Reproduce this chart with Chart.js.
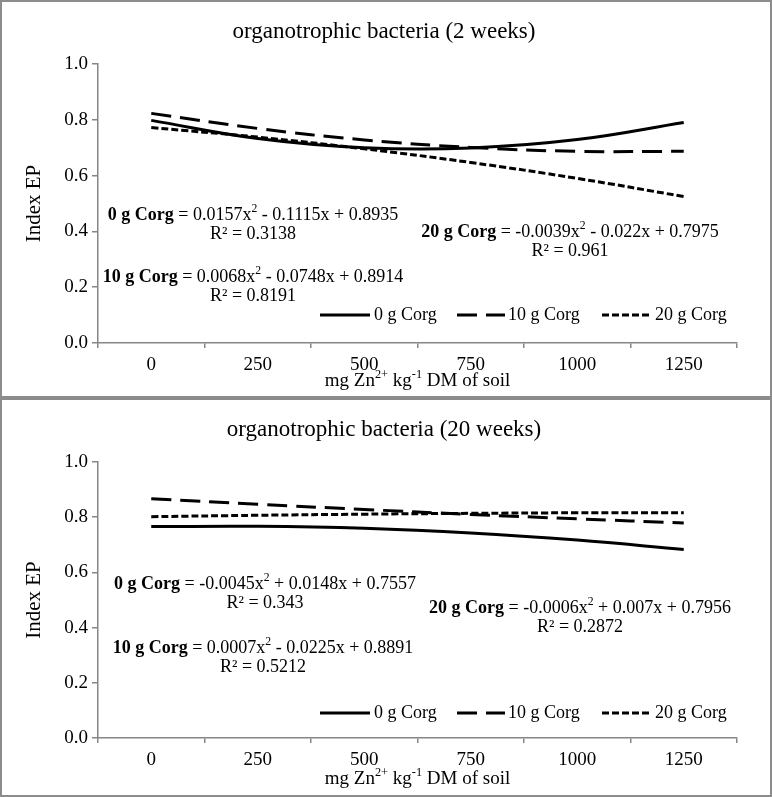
<!DOCTYPE html>
<html>
<head>
<meta charset="utf-8">
<script src="https://cdn.jsdelivr.net/npm/chart.js@4/dist/chart.umd.min.js"></script>
<style>
  body { margin: 0; background: #fff; }
  canvas { position: absolute; left: 0; }
  #c1 { top: 0; }
  #c2 { top: 398px; }
</style>
</head>
<body>
<canvas id="c1" width="772" height="398"></canvas>
<canvas id="c2" width="772" height="399"></canvas>
<script>
// データ
var doses = ['0', '250', '500', '750', '1000', '1250'];
var yTicks = [0, 0.2, 0.4, 0.6, 0.8, 1.0];
var seriesNames = ['0 g Corg', '10 g Corg', '20 g Corg'];

// 2 weeks
var w2_0g = [0.798, 0.733, 0.700, 0.699, 0.729, 0.790];
var w2_10g = [0.823, 0.769, 0.728, 0.701, 0.687, 0.687];
var w2_20g = [0.772, 0.738, 0.696, 0.647, 0.590, 0.525];

// 20 weeks
var w20_0g = [0.766, 0.767, 0.760, 0.743, 0.717, 0.683];
var w20_10g = [0.867, 0.847, 0.828, 0.810, 0.794, 0.779];
var w20_20g = [0.802, 0.807, 0.811, 0.814, 0.816, 0.816];

var SERIF = '"Liberation Serif", "Times New Roman", serif';
var axisGrey = '#868686';

var lineStyles = [
  { dash: [] },
  { dash: [20, 9] },
  { dash: [7, 3] }
];

//リッチテキスト（太字・上付き）を中央揃えで描く
function richText(ctx, parts, cx, cy, size) {
  var total = 0;
  parts.forEach(function(p) {
    var s = p.sup ? size * 0.65 : size;
    ctx.font = (p.b ? 'bold ' : '') + s + 'px ' + SERIF;
    p.w = ctx.measureText(p.t).width;
    total += p.w;
  });
  var x = cx - total / 2;
  ctx.textBaseline = 'middle';
  ctx.textAlign = 'left';
  parts.forEach(function(p) {
    var s = p.sup ? size * 0.65 : size;
    ctx.font = (p.b ? 'bold ' : '') + s + 'px ' + SERIF;
    ctx.fillText(p.t, x, p.sup ? cy - size * 0.32 : cy);
    x += p.w;
  });
}

function eq(label, a, b, c) {
  return [{ t: label, b: true }, { t: ' = ' + a + 'x' }, { t: '2', sup: true }, { t: ' ' + b + 'x ' + c }];
}

//パネル装飾プラグイン
var decor = {
  id: 'decor',
  afterDraw: function(chart, args, opts) {
    var ctx = chart.ctx;
    var area = chart.chartArea;
    ctx.save();
    ctx.fillStyle = '#000';
    // タイトル
    ctx.font = '23px ' + SERIF;
    ctx.textAlign = 'center';
    ctx.textBaseline = 'middle';
    ctx.fillText(opts.title, 384, 32);
    // 軸タイトル
    richText(ctx, [{ t: 'mg Zn' }, { t: '2+', sup: true }, { t: ' kg' }, { t: '-1', sup: true }, { t: ' DM of soil' }],
      (area.left + area.right) / 2, opts.xTitleY, 19);
    // 回帰式
    opts.eqs.forEach(function(e) {
      richText(ctx, e.parts, e.x, e.y, 18);
      richText(ctx, [{ t: 'R² = ' + e.r2 }], e.x, e.y + 19, 18);
    });
    // 凡例
    var legendY = opts.legendY;
    var items = [[320, 370, 374], [457, 505, 508], [602, 652, 655]];
    chart.data.datasets.forEach(function(ds, i) {
      var it = items[i];
      ctx.beginPath();
      ctx.setLineDash(ds.borderDash || []);
      ctx.lineWidth = ds.borderWidth;
      ctx.strokeStyle = ds.borderColor;
      ctx.moveTo(it[0], legendY);
      ctx.lineTo(it[1], legendY);
      ctx.stroke();
      ctx.setLineDash([]);
      ctx.font = '18px ' + SERIF;
      ctx.textAlign = 'left';
      ctx.textBaseline = 'middle';
      ctx.fillText(ds.label, it[2], legendY);
    });
    // 枠
    ctx.strokeStyle = '#8c8c8c';
    ctx.lineWidth = 2;
    ctx.strokeRect(1, 1, chart.width - 2, chart.height - 2);
    ctx.restore();
  }
};

function makeChart(id, data, bottom, opts) {
  var canvas = document.getElementById(id);
  var datasets = data.map(function(d, i) {
    return {
      label: seriesNames[i],
      data: d,
      borderColor: '#000',
      borderWidth: 3,
      borderDash: lineStyles[i].dash,
      pointRadius: 0,
      tension: 0.4,
      fill: false
    };
  });
  return new Chart(canvas, {
    type: 'line',
    data: { labels: doses, datasets: datasets },
    plugins: [decor],
    options: {
      responsive: false,
      animation: false,
      layout: { padding: { top: 64, left: 22, right: 35, bottom: 0 } },
      plugins: {
        legend: { display: false },
        tooltip: { enabled: false },
        decor: opts
      },
      scales: {
        x: {
          offset: true,
          afterFit: function(scale) { scale.height = canvas.height - bottom; },
          grid: { offset: true, drawOnChartArea: false, tickLength: 5, color: axisGrey, lineWidth: 1.5 },
          border: { color: axisGrey, width: 1.5 },
          ticks: { color: '#000', padding: 6, font: { family: SERIF, size: 19 }, maxRotation: 0 }
        },
        y: {
          min: 0,
          max: 1,
          afterFit: function(scale) { scale.width = 76; },
          afterBuildTicks: function(scale) {
            scale.ticks = yTicks.map(function(v) { return { value: v }; });
          },
          grid: { drawOnChartArea: false, tickLength: 6, color: axisGrey, lineWidth: 1.5 },
          border: { color: axisGrey, width: 1.5 },
          ticks: {
            color: '#000',
            padding: 4,
            font: { family: SERIF, size: 19 },
            callback: function(v) { return Number(v).toFixed(1); }
          },
          title: { display: true, text: 'Index EP', color: '#000', font: { family: SERIF, size: 21 }, padding: { top: 0, bottom: 0 } }
        }
      }
    }
  });
}

makeChart('c1', [w2_0g, w2_10g, w2_20g], 343, {
  title: 'organotrophic bacteria (2 weeks)',
  xTitleY: 381,
  legendY: 315,
  eqs: [
    { parts: eq('0 g Corg', '0.0157', '- 0.1115', '+ 0.8935'), r2: '0.3138', x: 253, y: 215 },
    { parts: eq('10 g Corg', '0.0068', '- 0.0748', '+ 0.8914'), r2: '0.8191', x: 253, y: 277 },
    { parts: eq('20 g Corg', '-0.0039', '- 0.022', '+ 0.7975'), r2: '0.961', x: 570, y: 232 }
  ]
});

makeChart('c2', [w20_0g, w20_10g, w20_20g], 340, {
  title: 'organotrophic bacteria (20 weeks)',
  xTitleY: 381,
  legendY: 315,
  eqs: [
    { parts: eq('0 g Corg', '-0.0045', '+ 0.0148', '+ 0.7557'), r2: '0.343', x: 265, y: 186 },
    { parts: eq('10 g Corg', '0.0007', '- 0.0225', '+ 0.8891'), r2: '0.5212', x: 263, y: 250 },
    { parts: eq('20 g Corg', '-0.0006', '+ 0.007', '+ 0.7956'), r2: '0.2872', x: 580, y: 210 }
  ]
});
</script>
</body>
</html>
